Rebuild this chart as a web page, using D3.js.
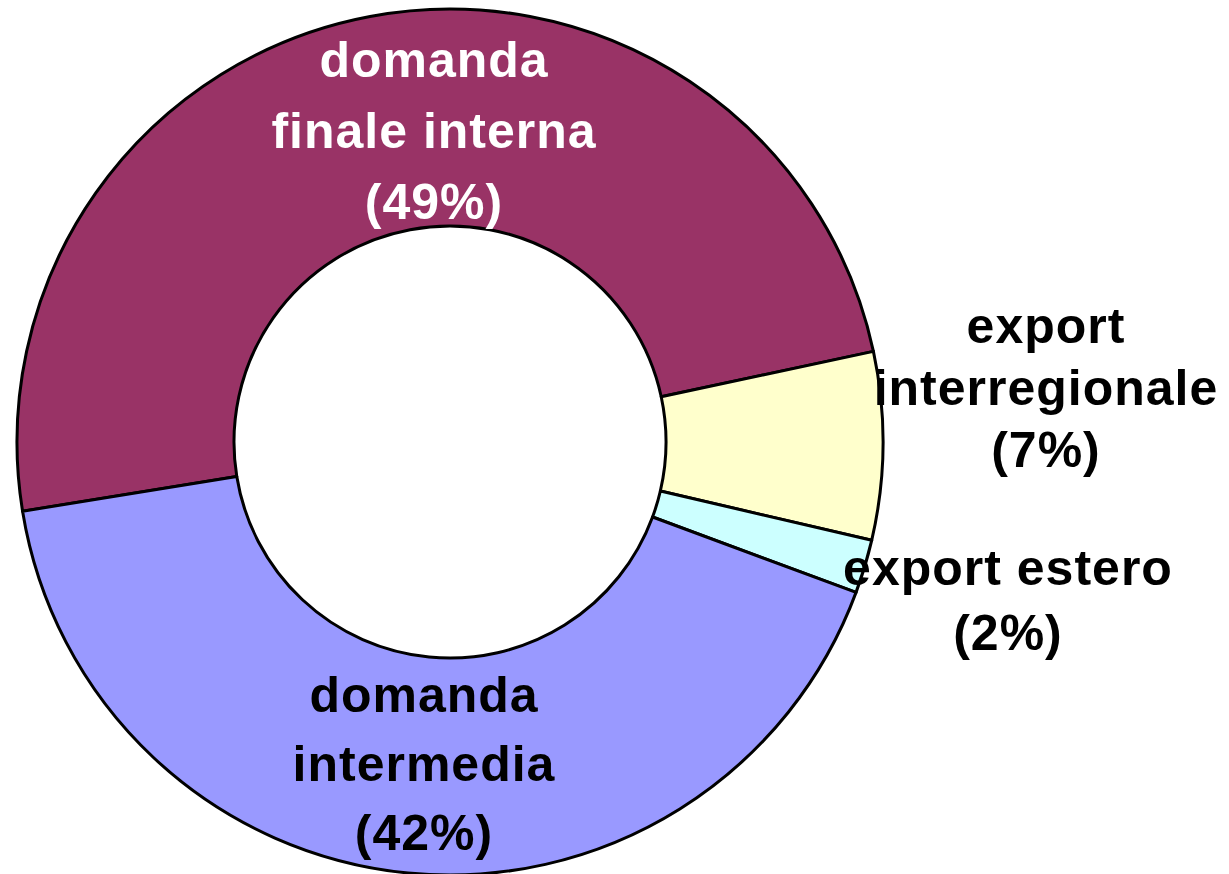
<!DOCTYPE html>
<html>
<head>
<meta charset="utf-8">
<script src="https://cdn.jsdelivr.net/npm/d3@7"></script>
<style>
  html, body { margin: 0; padding: 0; background: #fff; }
  svg { display: block; }
  text { font-family: "Liberation Sans", Arial, sans-serif; font-weight: bold; }
</style>
</head>
<body>
<svg id="chart" width="1229" height="874"></svg>
<script>
// ---- data ----
const categories = ["domanda finale interna", "export interregionale", "export estero", "domanda intermedia"];
const values = [49.2, 7.0, 2.0, 41.8];
const pctLabels = ["(49%)", "(7%)", "(2%)", "(42%)"];
const labelLines = [
  ["domanda", "finale interna"],
  ["export", "interregionale"],
  ["export estero"],
  ["domanda", "intermedia"]
];
const colors = ["#993366", "#FFFFCC", "#CCFFFF", "#9999FF"];
const textColors = ["#FFFFFF", "#000000", "#000000", "#000000"];

// ---- layout ----
const cx = 450, cy = 442, outerR = 433, innerR = 216;
const startDeg = -99.2;
const labelLayout = [
  { x: 434, y: 77, dy: 71 },
  { x: 1046, y: 343, dy: 62 },
  { x: 1008, y: 585, dy: 65 },
  { x: 424, y: 712, dy: 69 }
];

const svg = d3.select("#chart");
const g = svg.append("g").attr("transform", `translate(${cx},${cy})`);

const start = startDeg * Math.PI / 180;
const pie = d3.pie().sort(null).value(d => d).startAngle(start).endAngle(start + 2 * Math.PI);
const arc = d3.arc().innerRadius(innerR).outerRadius(outerR);

g.selectAll("path")
  .data(pie(values))
  .join("path")
  .attr("d", arc)
  .attr("fill", (d, i) => colors[i])
  .attr("stroke", "#000")
  .attr("stroke-width", 3)
  .attr("stroke-linejoin", "round");

categories.forEach((c, i) => {
  const L = labelLayout[i];
  const lines = labelLines[i].concat([pctLabels[i]]);
  const t = svg.append("text")
    .attr("text-anchor", "middle")
    .attr("font-size", 50)
    .attr("letter-spacing", 1)
    .attr("fill", textColors[i]);
  lines.forEach((ln, k) => {
    t.append("tspan").attr("x", L.x).attr("y", L.y + k * L.dy).text(ln);
  });
});
</script>
</body>
</html>
